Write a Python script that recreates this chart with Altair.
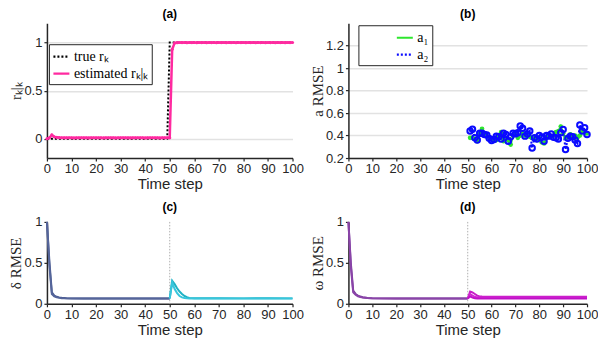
import altair as alt
import pandas as pd

# ---------------- data ----------------
steps_a = list(range(0, 101))
est_r = [0.00, 0.01, 0.04, 0.02, 0.015,
         0.012, 0.011, 0.010, 0.010, 0.011, 0.010, 0.009, 0.010, 0.010, 0.011,
         0.010, 0.010, 0.009, 0.010, 0.011, 0.010, 0.010, 0.010, 0.009, 0.010,
         0.011, 0.010, 0.010, 0.009, 0.010, 0.010, 0.011, 0.010, 0.010, 0.009,
         0.010, 0.010, 0.011, 0.010, 0.010, 0.009, 0.010, 0.010, 0.011, 0.010,
         0.010, 0.009, 0.010, 0.010, 0.011, 0.010,
         0.93,
         0.995, 0.998, 1.000, 0.999, 1.000, 0.998, 1.000, 0.999, 1.000, 0.998,
         1.000, 0.999, 1.000, 0.998, 1.000, 0.999, 1.000, 0.998, 1.000, 0.999,
         1.000, 0.998, 1.000, 0.999, 1.000, 0.998, 1.000, 0.999, 1.000, 0.998,
         1.000, 0.999, 1.000, 0.998, 1.000, 0.999, 1.000, 0.998, 1.000, 0.999,
         1.000, 0.998, 1.000, 0.999, 1.000, 0.998, 1.000, 0.999, 1.000]
true_steps = [0, 49, 50, 100]
true_r = [0, 0, 1, 1]

steps_b = list(range(51, 101))
a1 = [0.38, 0.38, 0.37, 0.35, 0.42, 0.46, 0.42, 0.40, 0.38, 0.37,
      0.36, 0.36, 0.39, 0.43, 0.35, 0.37, 0.36, 0.32, 0.40, 0.43,
      0.38, 0.40, 0.42, 0.40, 0.41, 0.39, 0.38, 0.38, 0.36, 0.38,
      0.34, 0.33, 0.38, 0.41, 0.39, 0.40, 0.43, 0.44, 0.48, 0.42,
      0.38, 0.39, 0.41, 0.39, 0.40, 0.38, 0.40, 0.44, 0.43, 0.42]
a2 = [0.44, 0.456, 0.38, 0.36, 0.42, 0.42, 0.41, 0.405, 0.375, 0.357,
      0.365, 0.395, 0.39, 0.37, 0.42, 0.41, 0.35, 0.39, 0.42, 0.415,
      0.425, 0.485, 0.465, 0.395, 0.415, 0.44, 0.29, 0.38, 0.37, 0.40,
      0.385, 0.35, 0.40, 0.395, 0.415, 0.385, 0.38, 0.37, 0.425, 0.455,
      0.275, 0.375, 0.395, 0.39, 0.36, 0.33, 0.495, 0.44, 0.47, 0.41]

steps_pre = [0, 1, 2, 3, 4, 5, 6, 8, 10, 15, 20, 30, 40, 50]
steps_post = [50, 51, 52, 53, 54, 55, 56, 57, 58, 60, 65, 70, 80, 90, 100]

delta_pre_1 = [1.0, 0.52, 0.14, 0.10, 0.085, 0.078, 0.073, 0.068, 0.066, 0.065, 0.065, 0.064, 0.065, 0.065]
delta_pre_2 = [1.0, 0.47, 0.12, 0.09, 0.078, 0.072, 0.069, 0.066, 0.064, 0.063, 0.063, 0.063, 0.063, 0.063]
delta_post_1 = [0.065, 0.28, 0.24, 0.19, 0.15, 0.12, 0.095, 0.08, 0.072, 0.068, 0.067, 0.067, 0.066, 0.067, 0.066]
delta_post_2 = [0.063, 0.26, 0.18, 0.13, 0.095, 0.078, 0.07, 0.066, 0.065, 0.064, 0.064, 0.064, 0.063, 0.064, 0.064]

omega_pre_1 = [1.0, 0.5, 0.16, 0.12, 0.10, 0.088, 0.08, 0.072, 0.068, 0.066, 0.065, 0.064, 0.064, 0.065]
omega_pre_2 = [1.0, 0.46, 0.14, 0.11, 0.092, 0.082, 0.076, 0.07, 0.066, 0.064, 0.063, 0.063, 0.063, 0.063]
omega_post_1 = [0.065, 0.15, 0.14, 0.12, 0.10, 0.09, 0.088, 0.087, 0.086, 0.086, 0.087, 0.086, 0.086, 0.087, 0.086]
omega_post_2 = [0.064, 0.12, 0.10, 0.085, 0.078, 0.076, 0.075, 0.075, 0.074, 0.075, 0.074, 0.075, 0.074, 0.075, 0.074]
omega_post_3 = [0.063, 0.09, 0.075, 0.068, 0.065, 0.064, 0.064, 0.064, 0.063, 0.064, 0.063, 0.064, 0.063, 0.064, 0.063]

change_step = [50]

# ---------------- styling helpers ----------------
SANS = "Liberation Sans"
SERIF = "Liberation Serif"
INK = "#262626"

x_scale = alt.Scale(domain=[0, 100], nice=False, zero=False)


def x_axis():
    return alt.Axis(values=list(range(0, 101, 10)), title="Time step", titleFont=SANS,
                    titleFontSize=15, titleFontWeight="normal", grid=False,
                    labelOverlap=False, labelFlush=False, titlePadding=1)


def y_axis(title, values, grid):
    return alt.Axis(values=values, title=title, titleFont=SERIF, titleFontSize=15,
                    titleFontWeight="normal", grid=grid, format="~g",
                    labelOverlap=False, labelFlush=False, titlePadding=0)


def panel_title(t):
    return alt.TitleParams(t, font=SANS, fontSize=12, fontWeight="bold", offset=2, color="black")


W_LEFT = 246
W_RIGHT = 239

# ---------------- panel (a) ----------------
lab_true = "true rₖ"
lab_est = "estimated rₖ|ₖ"
df_a = pd.concat([
    pd.DataFrame({"k": true_steps, "r": true_r, "sa": lab_true}),
    pd.DataFrame({"k": steps_a, "r": est_r, "sa": lab_est}),
])

leg_a = alt.Legend(orient="none", legendX=2, legendY=21, title=None, strokeColor=INK,
                   fillColor="white", padding=3, labelFont=SERIF, labelFontSize=14,
                   labelColor="black", symbolType="stroke", symbolSize=256,
                   symbolStrokeWidth=2.2, rowPadding=0, labelOffset=3)
col_a = alt.Color("sa:N", scale=alt.Scale(domain=[lab_true, lab_est], range=["black", "#ff2aa0"]), legend=leg_a)
dash_a = alt.StrokeDash("sa:N", scale=alt.Scale(domain=[lab_true, lab_est], range=[[2, 2], [1, 0]]), legend=leg_a)

base_a = alt.Chart(df_a).encode(
    x=alt.X("k:Q", scale=x_scale, axis=x_axis()),
    y=alt.Y("r:Q", scale=alt.Scale(domain=[-0.2, 1.2], nice=False, zero=False),
            axis=y_axis("rₖ|ₖ", [0, 0.5, 1], True)),
)
true_line = base_a.transform_filter(alt.datum.sa == lab_true).mark_line(strokeWidth=2).encode(color=col_a, strokeDash=dash_a)
est_line = base_a.transform_filter(alt.datum.sa == lab_est).mark_line(strokeWidth=2.5).encode(color=col_a, strokeDash=dash_a)
est_pts = base_a.transform_filter(alt.datum.sa == lab_est).mark_circle(size=10, opacity=1, color="#ff2aa0")

panel_a = alt.layer(true_line, est_line, est_pts).properties(width=W_LEFT, height=135, title=panel_title("(a)"))

# ---------------- panel (b) ----------------
lab_a1 = "a₁"
lab_a2 = "a₂"
df_b = pd.concat([
    pd.DataFrame({"k": steps_b, "v": a1, "sb": lab_a1}),
    pd.DataFrame({"k": steps_b, "v": a2, "sb": lab_a2}),
])
leg_b = alt.Legend(orient="none", legendX=10, legendY=2, title=None,
                   strokeColor=INK, fillColor="white", padding=3, symbolOffset=34,
                   labelFont=SERIF, labelFontSize=14, labelColor="black", symbolType="stroke",
                   symbolSize=256, symbolStrokeWidth=2.2, rowPadding=0, labelOffset=3,
                   labelExpr="datum.label + '                      '")
col_b = alt.Color("sb:N", scale=alt.Scale(domain=[lab_a1, lab_a2], range=["#2ee62e", "#0a0aff"]), legend=leg_b)
dash_b = alt.StrokeDash("sb:N", scale=alt.Scale(domain=[lab_a1, lab_a2], range=[[1, 0], [2, 2]]), legend=leg_b)

base_b = alt.Chart(df_b).encode(
    x=alt.X("k:Q", scale=x_scale, axis=x_axis()),
    y=alt.Y("v:Q", scale=alt.Scale(domain=[0.2, 1.4], nice=False, zero=False),
            axis=y_axis("a RMSE", [0.2, 0.4, 0.6, 0.8, 1.0, 1.2], True)),
)
b_lines = base_b.mark_line(strokeWidth=2).encode(color=col_b, strokeDash=dash_b)
b_pts1 = base_b.transform_filter(alt.datum.sb == lab_a1).mark_circle(size=22, opacity=1, color="#2ee62e")
b_pts2 = base_b.transform_filter(alt.datum.sb == lab_a2).mark_point(size=30, filled=False, strokeWidth=2, color="#0a0aff", opacity=1)

panel_b = alt.layer(b_lines, b_pts1, b_pts2).properties(width=W_RIGHT, height=135, title=panel_title("(b)"))


# ---------------- panels (c), (d) ----------------
def rmse_panel(title, ytitle, series, colors, width):
    frames = []
    for name, steps, vals in series:
        frames.append(pd.DataFrame({"k": steps, "v": vals, "line": name}))
    df = pd.concat(frames)
    names = [s[0] for s in series]
    xenc = alt.X("k:Q", scale=x_scale, axis=x_axis())
    lines = alt.Chart(df).mark_line(strokeWidth=2).encode(
        x=xenc,
        y=alt.Y("v:Q", scale=alt.Scale(domain=[0, 1], nice=False, zero=False),
                axis=y_axis(ytitle, [0, 0.5, 1], False)),
        color=alt.Color("line:N", scale=alt.Scale(domain=names, range=colors), legend=None),
        detail="line:N",
    )
    vline = alt.Chart(pd.DataFrame({"k": change_step})).mark_rule(
        color="#b0b0b0", strokeDash=[1.5, 1.5], strokeWidth=1).encode(x=xenc)
    return alt.layer(vline, lines).properties(width=width, height=82, title=panel_title(title))


panel_c = rmse_panel("(c)", "δ RMSE", [
    ("pre1", steps_pre, delta_pre_1),
    ("pre2", steps_pre, delta_pre_2),
    ("post1", steps_post, delta_post_1),
    ("post2", steps_post, delta_post_2),
], ["#4a5b92", "#55659a", "#1fb2c4", "#38c6dc"], W_LEFT)

panel_d = rmse_panel("(d)", "ω RMSE", [
    ("pre1", steps_pre, omega_pre_1),
    ("pre2", steps_pre, omega_pre_2),
    ("post1", steps_post, omega_post_1),
    ("post2", steps_post, omega_post_2),
    ("post3", steps_post, omega_post_3),
], ["#7a3c9e", "#8a44a8", "#c81ec8", "#d226d2", "#c010c8"], W_RIGHT)

top = alt.hconcat(panel_a, panel_b, spacing=6).resolve_scale(color="independent", strokeDash="independent")
bottom = alt.hconcat(panel_c, panel_d, spacing=6).resolve_scale(color="independent")

chart = alt.vconcat(top, bottom, spacing=9).resolve_scale(
    color="independent", strokeDash="independent"
).properties(padding=0, background="white").configure_view(stroke=None).configure_axis(
    domainColor=INK, domainWidth=1.5, tickColor=INK, tickSize=3, tickWidth=1.2,
    labelColor=INK, titleColor=INK, gridColor="#e2e2e2", gridWidth=1.5,
    labelFont=SANS, labelFontSize=13, labelPadding=2, titleFontWeight="normal",
)

chart.save("out.html", embed_options={"renderer": "svg", "actions": False})
